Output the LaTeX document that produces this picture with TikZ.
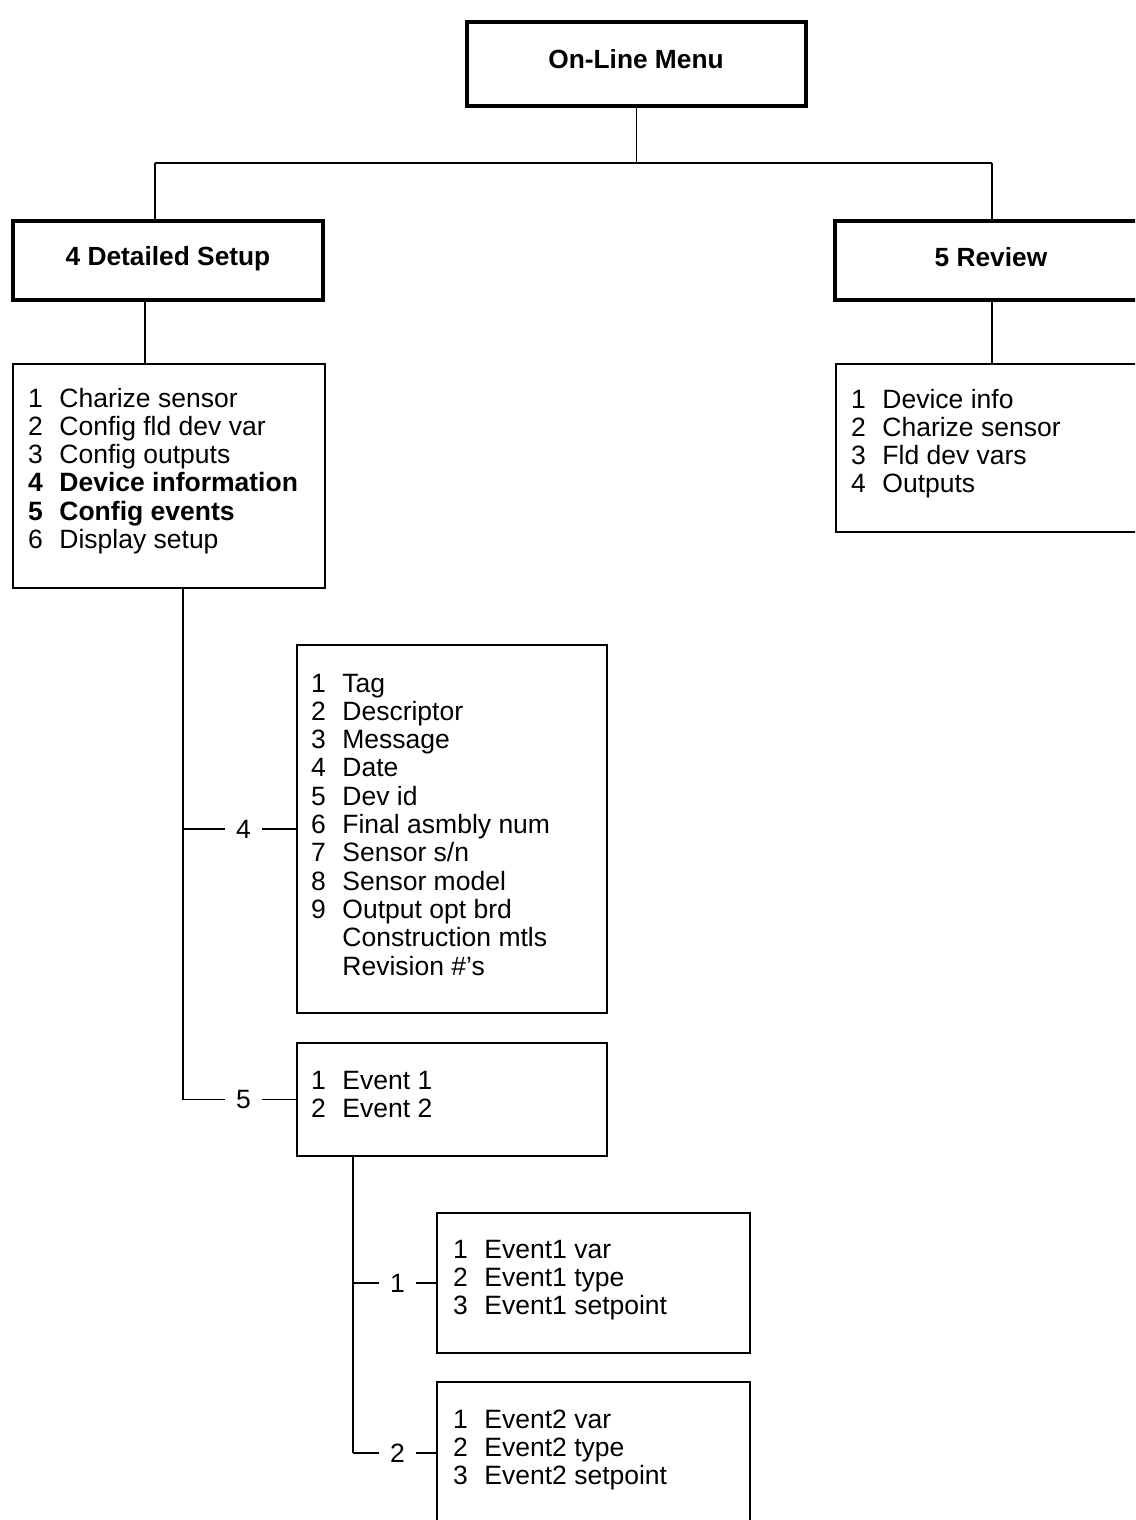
\documentclass[tikz,border=0pt]{standalone}
\usepackage{fontspec}
\setmainfont{Liberation Sans}
\newcommand{\lstab}[1]{\begin{tabular}[t]{@{}l@{\hspace{16.5pt}}l@{}}#1\end{tabular}}
\begin{document}
\begin{tikzpicture}[x=1pt,y=-1pt,
  thickbox/.style={draw,line width=4pt,inner sep=0,rectangle},
  thinbox/.style={draw,line width=1.8pt,inner sep=0,rectangle},
  conn/.style={line width=1.8pt},
  lst/.style={font=\fontsize{26.5}{28.3}\selectfont,inner sep=0,anchor=base west},
  ttl/.style={font=\fontsize{26.3}{30}\selectfont\bfseries,inner sep=0,anchor=base},
  lbl/.style={font=\fontsize{26.5}{28}\selectfont,fill=white,inner xsep=11.5pt,inner ysep=0,pos=0.535}]
\useasboundingbox (0,0) rectangle (1135,1520);
\clip (0,0) rectangle (1135,1520);
\fill[white] (0,0) rectangle (1135,1520);

% title boxes
\node[thickbox,minimum width=339pt,minimum height=84pt] (top) at (636.5,64) {};
\node[thickbox,minimum width=310pt,minimum height=79pt] (ds) at (168,260.5) {};
\node[thickbox,minimum width=315pt,minimum height=79pt] (rev) at (992.5,260.5) {};
\node[ttl] (toptxt) at (636,68) {On-Line Menu};
\node[ttl] (dstxt) at (168,265) {4 Detailed Setup};
\node[ttl] (revtxt) at (991,266) {5 Review};

% list boxes
\node[thinbox,minimum width=312pt,minimum height=224pt] (dlist) at (169,476) {};
\node[thinbox,minimum width=314pt,minimum height=168pt] (rlist) at (993,448) {};
\node[thinbox,minimum width=310pt,minimum height=368pt] (box4) at (452,829) {};
\node[thinbox,minimum width=310pt,minimum height=113pt] (box5) at (452,1099.5) {};
\node[thinbox,minimum width=313pt,minimum height=140pt] (e1) at (593.5,1283) {};
\node[thinbox,minimum width=313pt,minimum height=142pt] (e2) at (593.5,1453) {};

\node[lst] (dlisttxt) at (28,407) {\lstab{1 & Charize sensor\\ 2 & Config fld dev var\\ 3 & Config outputs\\ \textbf{4} & \textbf{Device information}\\ \textbf{5} & \textbf{Config events}\\ 6 & Display setup}};
\node[lst] (rlisttxt) at (851,408) {\lstab{1 & Device info\\ 2 & Charize sensor\\ 3 & Fld dev vars\\ 4 & Outputs}};
\node[lst] (box4txt) at (311,692) {\lstab{1 & Tag\\ 2 & Descriptor\\ 3 & Message\\ 4 & Date\\ 5 & Dev id\\ 6 & Final asmbly num\\ 7 & Sensor s/n\\ 8 & Sensor model\\ 9 & Output opt brd\\ & Construction mtls\\ & Revision \#'s}};
\node[lst] (box5txt) at (311,1089) {\lstab{1 & Event 1\\ 2 & Event 2}};
\node[lst] (e1txt) at (453,1258) {\lstab{1 & Event1 var\\ 2 & Event1 type\\ 3 & Event1 setpoint}};
\node[lst] (e2txt) at (453,1428) {\lstab{1 & Event2 var\\ 2 & Event2 type\\ 3 & Event2 setpoint}};

% connectors
\coordinate (hL) at (155,163);
\coordinate (hR) at (992,163);
\coordinate (hM) at (top.south |- hL);
\coordinate (dsx) at (145,0);
\coordinate (j4) at (183,829);
\coordinate (j5) at (183,1099.5);
\coordinate (k1) at (353,1283);
\coordinate (k2) at (353,1453);

\draw[conn] (top.south) -- (hM);
\draw[conn] (hL) -- (hR);
\draw[conn] (hL) -- (hL |- ds.north);
\draw[conn] (hR) -- (hR |- rev.north);
\draw[conn] (ds.south -| dsx) -- (dlist.north -| dsx);
\draw[conn] (rev.south -| hR) -- (rlist.north -| hR);
\draw[conn] (dlist.south -| j5) -- (j5);
\draw[conn] (j4) -- node[lbl] (l4) {4} (box4.west);
\draw[conn] (j5) -- node[lbl] (l5) {5} (box5.west);
\draw[conn] (box5.south -| k2) -- (k2);
\draw[conn] (k1) -- node[lbl] (l1) {1} (e1.west);
\draw[conn] (k2) -- node[lbl] (l2) {2} (e2.west);
\end{tikzpicture}
\end{document}
